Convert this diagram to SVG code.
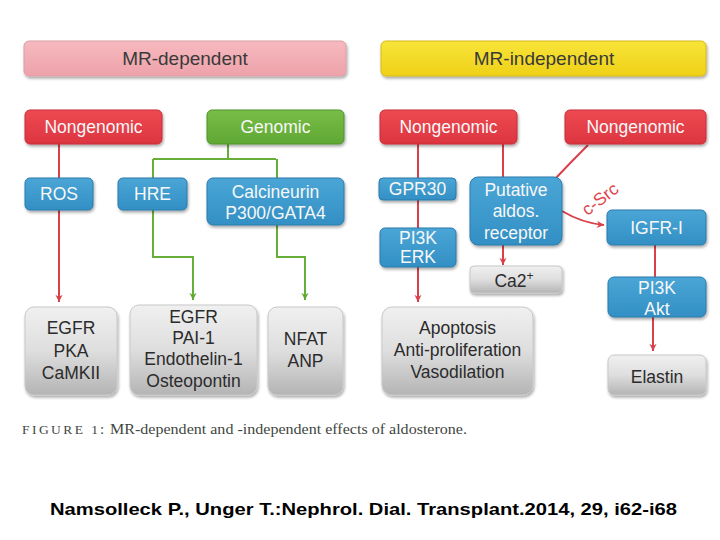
<svg xmlns="http://www.w3.org/2000/svg" width="720" height="540" viewBox="0 0 720 540">
<defs>
<linearGradient id="gPink" x1="0" y1="0" x2="0" y2="1"><stop offset="0" stop-color="#f6b9bf"/><stop offset="1" stop-color="#eea2aa"/></linearGradient>
<linearGradient id="gYellow" x1="0" y1="0" x2="0" y2="1"><stop offset="0" stop-color="#f8e43a"/><stop offset="1" stop-color="#efd117"/></linearGradient>
<linearGradient id="gRed" x1="0" y1="0" x2="0" y2="1"><stop offset="0" stop-color="#ee4a52"/><stop offset="1" stop-color="#dc3540"/></linearGradient>
<linearGradient id="gGreen" x1="0" y1="0" x2="0" y2="1"><stop offset="0" stop-color="#78bd46"/><stop offset="1" stop-color="#5fa834"/></linearGradient>
<linearGradient id="gBlue" x1="0" y1="0" x2="0" y2="1"><stop offset="0" stop-color="#4aa6d6"/><stop offset="1" stop-color="#338fc4"/></linearGradient>
<linearGradient id="gGray" x1="0" y1="0" x2="0" y2="1"><stop offset="0" stop-color="#f0f0f0"/><stop offset="0.5" stop-color="#dedede"/><stop offset="1" stop-color="#b4b4b4"/></linearGradient>
<filter id="sh" x="-10%" y="-10%" width="120%" height="130%"><feGaussianBlur in="SourceAlpha" stdDeviation="1.5"/><feOffset dx="1" dy="2"/><feComponentTransfer><feFuncA type="linear" slope="0.35"/></feComponentTransfer><feMerge><feMergeNode/><feMergeNode in="SourceGraphic"/></feMerge></filter>
<marker id="aR" viewBox="0 0 10 10" refX="9" refY="5" markerWidth="9" markerHeight="9" markerUnits="userSpaceOnUse" orient="auto"><path d="M1 1 L9 5 L1 9 L3.5 5 Z" fill="#d9404a"/></marker>
<marker id="aG" viewBox="0 0 10 10" refX="9" refY="5" markerWidth="9" markerHeight="9" markerUnits="userSpaceOnUse" orient="auto"><path d="M1 1 L9 5 L1 9 L3.5 5 Z" fill="#5fa834"/></marker>
</defs>
<style>
.t{font-family:"Liberation Sans",Arial,sans-serif;font-size:17.5px;text-anchor:middle}
.h{font-size:19px;fill:#3a3a3a}
.w{fill:#f7f7f7}
.d{fill:#2b2b2b}
.red{fill:url(#gRed);stroke:#c52f38;stroke-width:1}
.grn{fill:url(#gGreen);stroke:#4f9429;stroke-width:1}
.blu{fill:url(#gBlue);stroke:#2a7aab;stroke-width:1}
.gry{fill:url(#gGray);stroke:#c8c8c8;stroke-width:1}
.lr{fill:none;stroke:#d9404a;stroke-width:2}
.lg{fill:none;stroke:#66ad3a;stroke-width:2}
.cap{font-family:"Liberation Serif","Times New Roman",serif;fill:#3f4741}
</style>
<rect width="720" height="540" fill="#ffffff"/>

<g id="connectors">
<path class="lr" d="M59 144 V302" marker-end="url(#aR)"/>
<path class="lg" d="M228 144 V159 M153 159 H276"/>
<path class="lg" d="M153 159 V257 H193 V300" marker-end="url(#aG)"/>
<path class="lg" d="M277 159 V257 H305 V300" marker-end="url(#aG)"/>
<path class="lr" d="M418 144 V302" marker-end="url(#aR)"/>
<path class="lr" d="M503 144 V265" marker-end="url(#aR)"/>
<path class="lr" d="M588 145 Q570 163 554 180"/>
<path class="lr" d="M562 211 Q582 223 604 225" marker-end="url(#aR)"/>
<path class="lr" d="M655 245 V277"/>
<path class="lr" d="M653 317 V351" marker-end="url(#aR)"/>
<text class="t" x="600" y="205" font-size="17" fill="#de4750" transform="rotate(-38 600 199)">c-Src</text>
</g>

<g id="hdr-dep"><rect x="24" y="41" width="322" height="35" rx="5" fill="url(#gPink)" stroke="#d9a0a6" filter="url(#sh)"/><text class="t h" x="185" y="65">MR-dependent</text></g>
<g id="hdr-indep"><rect x="381" y="41" width="325" height="35" rx="5" fill="url(#gYellow)" stroke="#d6bb18" filter="url(#sh)"/><text class="t h" x="544" y="65">MR-independent</text></g>

<g id="ng1"><rect class="red" x="25" y="110" width="137" height="34" rx="5" filter="url(#sh)"/><text class="t w" x="93.5" y="133">Nongenomic</text></g>
<g id="genomic"><rect class="grn" x="207" y="110" width="137" height="34" rx="5" filter="url(#sh)"/><text class="t w" x="275.5" y="133">Genomic</text></g>
<g id="ng2"><rect class="red" x="380" y="110" width="137" height="34" rx="5" filter="url(#sh)"/><text class="t w" x="448.5" y="133">Nongenomic</text></g>
<g id="ng3"><rect class="red" x="565" y="110" width="141" height="34" rx="5" filter="url(#sh)"/><text class="t w" x="635.5" y="133">Nongenomic</text></g>

<g id="ros"><rect class="blu" x="25" y="178" width="68" height="32" rx="5" filter="url(#sh)"/><text class="t w" x="59" y="200">ROS</text></g>
<g id="hre"><rect class="blu" x="118" y="178" width="69" height="32" rx="5" filter="url(#sh)"/><text class="t w" x="152.5" y="200">HRE</text></g>
<g id="calc"><rect class="blu" x="207" y="178" width="137" height="47" rx="6" filter="url(#sh)"/><text class="t w" x="275.5" y="198">Calcineurin</text><text class="t w" x="275.5" y="219">P300/GATA4</text></g>
<g id="gpr30"><rect class="blu" x="379" y="178" width="77" height="22" rx="4" filter="url(#sh)"/><text class="t w" x="417.5" y="195">GPR30</text></g>
<g id="pi3kerk"><rect class="blu" x="380" y="228" width="76" height="39" rx="5" filter="url(#sh)"/><text class="t w" x="418" y="244">PI3K</text><text class="t w" x="418" y="263">ERK</text></g>
<g id="putative"><rect class="blu" x="470" y="177" width="92" height="68" rx="8" filter="url(#sh)"/><text class="t w" x="516" y="196">Putative</text><text class="t w" x="516" y="217">aldos.</text><text class="t w" x="516" y="239">receptor</text></g>
<g id="igfr"><rect class="blu" x="607" y="210" width="99" height="35" rx="5" filter="url(#sh)"/><text class="t w" x="656.5" y="234">IGFR-I</text></g>
<g id="pi3kakt"><rect class="blu" x="608" y="277" width="98" height="40" rx="6" filter="url(#sh)"/><text class="t w" x="657" y="294">PI3K</text><text class="t w" x="657" y="315">Akt</text></g>

<g id="ca2"><rect class="gry" x="470" y="266" width="92" height="27" rx="4" filter="url(#sh)"/><text class="t d" x="514" y="287">Ca2<tspan font-size="12" dy="-7">+</tspan></text></g>
<g id="out1"><rect class="gry" x="25" y="307" width="92" height="88" rx="9" filter="url(#sh)"/><text class="t d" x="71" y="334">EGFR</text><text class="t d" x="71" y="357">PKA</text><text class="t d" x="71" y="379">CaMKII</text></g>
<g id="out2"><rect class="gry" x="130" y="305" width="127" height="90" rx="9" filter="url(#sh)"/><text class="t d" x="193.5" y="323">EGFR</text><text class="t d" x="193.5" y="344">PAI-1</text><text class="t d" x="193.5" y="365">Endothelin-1</text><text class="t d" x="193.5" y="387">Osteopontin</text></g>
<g id="out3"><rect class="gry" x="268" y="307" width="75" height="88" rx="9" filter="url(#sh)"/><text class="t d" x="305.5" y="345">NFAT</text><text class="t d" x="305.5" y="367">ANP</text></g>
<g id="out4"><rect class="gry" x="382" y="307" width="151" height="88" rx="10" filter="url(#sh)"/><text class="t d" x="457.5" y="334">Apoptosis</text><text class="t d" x="457.5" y="356">Anti-proliferation</text><text class="t d" x="457.5" y="378">Vasodilation</text></g>
<g id="elastin"><rect class="gry" x="608" y="355" width="98" height="40" rx="6" filter="url(#sh)"/><text class="t d" x="657" y="383">Elastin</text></g>

<g id="caption">
<text class="cap" x="22" y="434" font-size="13.5" textLength="76" lengthAdjust="spacing" fill="#3a3a3a">FIGURE 1</text>
<text class="cap" x="100" y="434" font-size="15">:</text>
<text class="cap" x="110" y="434" font-size="15" textLength="357" lengthAdjust="spacingAndGlyphs">MR-dependent and -independent effects of aldosterone.</text>
</g>
<g id="citation">
<text x="50" y="515" font-family="'Liberation Sans',Arial,sans-serif" font-size="17" font-weight="bold" fill="#000" textLength="627" lengthAdjust="spacingAndGlyphs">Namsolleck P., Unger T.:Nephrol. Dial. Transplant.2014, 29, i62-i68</text>
</g>
</svg>
